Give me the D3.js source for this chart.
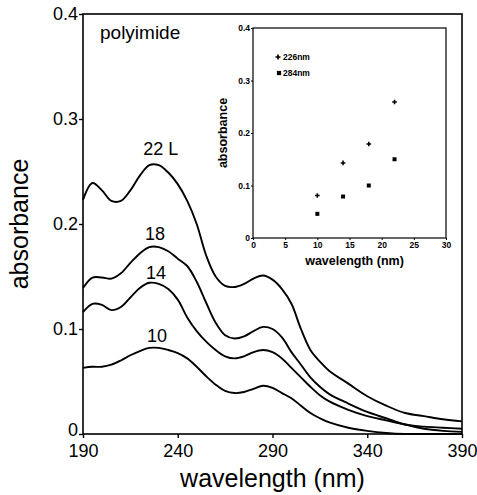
<!DOCTYPE html>
<html>
<head>
<meta charset="utf-8">
<script src="https://cdn.jsdelivr.net/npm/d3@7/dist/d3.min.js"></script>
<style>
  html, body { margin: 0; padding: 0; background: #fff; }
  svg { display: block; font-family: "Liberation Sans", Arial, Helvetica, sans-serif; }
  .curve { fill: none; stroke: #000; stroke-width: 1.9; }
  .frame { fill: none; stroke: #000; stroke-width: 1.6; }
  .axis path { display: none; }
  .axis line { stroke: #000; stroke-width: 1.4; }
  .axis text { fill: #000; }
</style>
</head>
<body>
<div id="chart"></div>
<script>
// spectra (absorbance per wavelength, nm)
const WAVELENGTHS = [190, 195, 200, 205, 210, 215, 220, 225, 230, 235, 240, 245, 250, 255, 260, 265, 270,
  275, 280, 285, 290, 295, 300, 305, 310, 315, 320, 330, 340, 350, 360, 370, 380, 390];
const ABS_22L = [0.223, 0.239, 0.232, 0.222, 0.222, 0.232, 0.246, 0.256, 0.256, 0.249, 0.238, 0.222, 0.200,
  0.170, 0.150, 0.141, 0.140, 0.143, 0.148, 0.151, 0.147, 0.138, 0.124, 0.100, 0.080, 0.069, 0.060, 0.048,
  0.036, 0.027, 0.020, 0.017, 0.014, 0.012];
const ABS_18 = [0.139, 0.149, 0.149, 0.148, 0.153, 0.163, 0.172, 0.178, 0.178, 0.174, 0.167, 0.160, 0.145,
  0.125, 0.106, 0.094, 0.091, 0.093, 0.098, 0.102, 0.100, 0.092, 0.078, 0.066, 0.054, 0.045, 0.038, 0.029,
  0.021, 0.015, 0.009, 0.007, 0.006, 0.005];
const ABS_14 = [0.116, 0.124, 0.123, 0.118, 0.121, 0.130, 0.139, 0.144, 0.143, 0.138, 0.128, 0.111, 0.098,
  0.088, 0.080, 0.074, 0.072, 0.074, 0.078, 0.080, 0.078, 0.072, 0.063, 0.054, 0.045, 0.037, 0.031, 0.023,
  0.017, 0.013, 0.009, 0.005, 0.003, 0.002];
const ABS_10 = [0.063, 0.064, 0.064, 0.066, 0.070, 0.075, 0.079, 0.082, 0.082, 0.080, 0.077, 0.072, 0.064,
  0.055, 0.047, 0.041, 0.039, 0.040, 0.043, 0.046, 0.044, 0.039, 0.034, 0.027, 0.020, 0.015, 0.011, 0.006,
  0.003, 0.001, 0.000, 0.000, 0.000, 0.000];

const SERIES_NAMES = ["22 L", "18", "14", "10"];
const SERIES_VALUES = [ABS_22L, ABS_18, ABS_14, ABS_10];
// label anchors in data units (wavelength, absorbance)
const LABEL_W = [231, 228, 228.5, 229];
const LABEL_A = [0.266, 0.185, 0.148, 0.088];

const X_TICKS = [190, 240, 290, 340, 390];
const Y_TICKS = [0, 0.1, 0.2, 0.3, 0.4];

// inset: absorbance at the two peaks vs. thickness
const INSET_X = [10, 14, 18, 22];
const INSET_226 = [0.081, 0.143, 0.179, 0.259];
const INSET_284 = [0.046, 0.079, 0.100, 0.150];
const INSET_X_TICKS = [0, 5, 10, 15, 20, 25, 30];
const INSET_Y_TICKS = [0, 0.1, 0.2, 0.3, 0.4];

const W = 477, H = 495;
const svg = d3.select("#chart").append("svg").attr("width", W).attr("height", H);

const x = d3.scaleLinear().domain([190, 390]).range([83, 462]);
const y = d3.scaleLinear().domain([0, 0.4]).range([434, 14]);
const fmt = (d) => (d === 0 ? "0" : d3.format(".1f")(d));

svg.append("rect").attr("class", "frame")
  .attr("x", x(190)).attr("y", y(0.4))
  .attr("width", x(390) - x(190)).attr("height", y(0) - y(0.4));

svg.append("g").attr("class", "axis")
  .attr("transform", `translate(0,${y(0)})`)
  .call(d3.axisBottom(x).tickValues(X_TICKS).tickSize(4).tickPadding(6))
  .selectAll("text").style("font-size", "18px");

const yAxis = svg.append("g").attr("class", "axis")
  .attr("transform", `translate(${x(190)},0)`)
  .call(d3.axisLeft(y).tickValues(Y_TICKS).tickFormat(fmt).tickSize(4).tickPadding(1));
yAxis.selectAll("text").style("font-size", "18px");
// the "0" sits just above the "190" label
yAxis.selectAll("text").filter((d) => d === 0).attr("dy", "0.1em");

const line = d3.line()
  .x((d) => x(d[0]))
  .y((d) => y(d[1]))
  .curve(d3.curveCatmullRom.alpha(0.5));

SERIES_VALUES.forEach((vals) => {
  svg.append("path").attr("class", "curve")
    .attr("d", line(WAVELENGTHS.map((w, i) => [w, vals[i]])));
});

SERIES_NAMES.forEach((name, i) => {
  svg.append("text")
    .attr("x", x(LABEL_W[i])).attr("y", y(LABEL_A[i]))
    .attr("text-anchor", "middle")
    .style("font-size", "18px")
    .text(name);
});

svg.append("text").attr("x", 100).attr("y", 39).style("font-size", "19px").text("polyimide");

svg.append("text")
  .attr("x", (x(190) + x(390)) / 2).attr("y", 487)
  .attr("text-anchor", "middle").style("font-size", "25px")
  .text("wavelength (nm)");

svg.append("text")
  .attr("transform", `translate(28,${(y(0) + y(0.4)) / 2}) rotate(-90)`)
  .attr("text-anchor", "middle").style("font-size", "25px")
  .text("absorbance");

// ---- inset ----
const xi = d3.scaleLinear().domain([0, 30]).range([253, 446]);
const yi = d3.scaleLinear().domain([0, 0.4]).range([238, 28]);
const inset = svg.append("g");

inset.append("rect")
  .attr("x", xi(0)).attr("y", yi(0.4))
  .attr("width", xi(30) - xi(0)).attr("height", yi(0) - yi(0.4))
  .attr("fill", "none").attr("stroke", "#000").attr("stroke-width", 1.2);

inset.append("g").attr("class", "axis")
  .attr("transform", `translate(0,${yi(0)})`)
  .call(d3.axisBottom(xi).tickValues(INSET_X_TICKS).tickSize(2).tickPadding(2))
  .selectAll("text").style("font-size", "8.5px").style("font-weight", "bold");

inset.append("g").attr("class", "axis")
  .attr("transform", `translate(${xi(0)},0)`)
  .call(d3.axisLeft(yi).tickValues(INSET_Y_TICKS).tickFormat(fmt).tickSize(2).tickPadding(1))
  .selectAll("text").style("font-size", "8.5px").style("font-weight", "bold");

inset.selectAll(".axis line").style("stroke-width", 1);

inset.selectAll("path.p226").data(INSET_X).join("path")
  .attr("class", "p226")
  .attr("transform", (d, i) => `translate(${xi(d)},${yi(INSET_226[i])})`)
  .attr("d", d3.symbol(d3.symbolCross, 12));

inset.selectAll("path.p284").data(INSET_X).join("path")
  .attr("class", "p284")
  .attr("transform", (d, i) => `translate(${xi(d)},${yi(INSET_284[i])})`)
  .attr("d", d3.symbol(d3.symbolSquare, 16));

inset.append("path").attr("transform", "translate(278,57)").attr("d", d3.symbol(d3.symbolCross, 14));
inset.append("path").attr("transform", "translate(279,73)").attr("d", d3.symbol(d3.symbolSquare, 18));
inset.append("text").attr("x", 283).attr("y", 60).style("font-size", "8.5px").style("font-weight", "bold").text("226nm");
inset.append("text").attr("x", 283).attr("y", 76).style("font-size", "8.5px").style("font-weight", "bold").text("284nm");

inset.append("text")
  .attr("x", (xi(0) + xi(30)) / 2 + 5).attr("y", 265)
  .attr("text-anchor", "middle").style("font-size", "12.5px").style("font-weight", "bold")
  .text("wavelength (nm)");

inset.append("text")
  .attr("transform", `translate(227,${(yi(0) + yi(0.4)) / 2}) rotate(-90)`)
  .attr("text-anchor", "middle").style("font-size", "12.5px").style("font-weight", "bold")
  .text("absorbance");
</script>
</body>
</html>
